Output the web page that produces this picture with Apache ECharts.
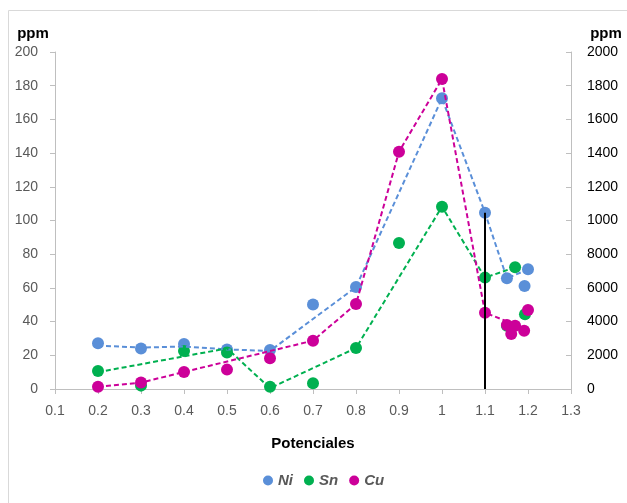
<!DOCTYPE html>
<html><head><meta charset="utf-8">
<script src="https://cdn.jsdelivr.net/npm/echarts@6/dist/echarts.min.js"></script>
<style>html,body{margin:0;padding:0;background:#fff}#c{width:627px;height:503px}</style>
</head><body><div id="c"></div>
<script>
// Measured points (x = potencial, y = ppm)
const niPoints = [[0.2,27.1],[0.3,24.1],[0.4,26.7],[0.5,23.5],[0.6,23.1],[0.7,50.2],[0.8,60.5],[1.0,172.5],[1.1,104.6],[1.151,65.7],[1.2,71.0],[1.192,61.1]];
const snPoints = [[0.2,10.7],[0.3,2.0],[0.4,22.5],[0.5,21.6],[0.6,1.4],[0.7,3.4],[0.8,24.3],[0.9,86.6],[1.0,108.2],[1.1,66.1],[1.17,72.2],[1.193,44.3],[1.151,37.6]];
const cuPoints = [[0.2,14],[0.3,38],[0.4,101],[0.5,115],[0.6,182],[0.7,287],[0.8,504],[0.9,1408],[1.0,1840],[1.1,453],[1.151,380],[1.17,376],[1.161,326],[1.191,346],[1.2,469]];
// Dashed connecting lines
const niLine = [[0.2,25.8],[0.3,24.6],[0.4,25.2],[0.5,23.5],[0.6,22.6],[0.8,60.5],[1.0,172.5],[1.1,104.6],[1.151,65.7],[1.2,71.0]];
const snLine = [[0.2,10.0],[0.5,24.1],[0.6,0.5],[0.8,24.3],[1.0,108.2],[1.1,66.1],[1.17,72.2]];
const cuLine = [[0.2,14],[0.3,38],[0.4,101],[0.7,287],[0.8,504],[0.9,1408],[1.0,1840],[1.1,453],[1.162,390]];
const markerLine = [[1.1,0],[1.1,104.6]];
const xTicks = {min:0.1, max:1.3, interval:0.1};
const rightTickLabels = ["0","2000","4000","6000","8000","1000","1200","1400","1600","1800","2000"];
const seriesNames = ["Ni","Sn","Cu"];
const colors = ["#5A8FD8","#00B050","#CC0099"];

const font = "'Liberation Sans', Arial, sans-serif";
const chart = echarts.init(document.getElementById('c'));
const dash = (name, data, color, yIdx) => ({
  name: name + ' linea', type:'line', data, yAxisIndex:yIdx, showSymbol:false, symbol:'none',
  lineStyle:{color, width:2, type:[5,3]}, z:3, silent:true
});
const pts = (name, data, color, yIdx) => ({
  name, type:'scatter', data, yAxisIndex:yIdx, symbolSize:12, itemStyle:{color, opacity:1}, z:2
});
chart.setOption({
  animation:false,
  graphic:[{type:'rect', shape:{x:8.5,y:10.5,width:700,height:600}, style:{fill:null, stroke:'#D9D9D9', lineWidth:1}, z:-1}],
  grid:{left:55, right:56, top:52, bottom:114},
  legend:{data:seriesNames, bottom:10, left:258, icon:'circle', itemWidth:10, itemHeight:10, itemGap:11,
    textStyle:{fontFamily:font, fontSize:15, fontWeight:'bold', fontStyle:'italic', color:'#595959'}},
  xAxis:{type:'value', min:xTicks.min, max:xTicks.max, interval:xTicks.interval,
    name:'Potenciales', nameLocation:'middle', nameGap:47,
    nameTextStyle:{fontFamily:font, fontSize:15, fontWeight:'bold', color:'#000'},
    axisLine:{lineStyle:{color:'#BFBFBF'}}, axisTick:{show:true, length:5, lineStyle:{color:'#BFBFBF'}},
    splitLine:{show:false},
    axisLabel:{fontFamily:font, fontSize:14, color:'#595959', margin:15,
      formatter:v=>{const r=Math.round(v*10)/10; return String(r);}}},
  yAxis:[
    {type:'value', min:0, max:200, interval:20, position:'left',
     axisLine:{show:true, lineStyle:{color:'#BFBFBF'}}, axisTick:{show:true, length:5, lineStyle:{color:'#BFBFBF'}},
     splitLine:{show:false},
     axisLabel:{fontFamily:font, fontSize:14, color:'#595959', margin:17},
     name:'ppm', nameLocation:'end', nameGap:11,
     nameTextStyle:{fontFamily:font, fontSize:15, fontWeight:'bold', color:'#000', align:'center', padding:[0,0,0,-44]}},
    {type:'value', min:0, max:2000, interval:200, position:'right',
     axisLine:{show:true, lineStyle:{color:'#BFBFBF'}}, axisTick:{show:true, inside:true, length:5, lineStyle:{color:'#BFBFBF'}},
     splitLine:{show:false},
     axisLabel:{fontFamily:font, fontSize:14, color:'#000', margin:16,
       formatter:v=>rightTickLabels[Math.round(v/200)]},
     name:'ppm', nameLocation:'end', nameGap:11,
     nameTextStyle:{fontFamily:font, fontSize:15, fontWeight:'bold', color:'#000', align:'center', padding:[0,0,0,70]}}
  ],
  series:[
    pts('Ni', niPoints, colors[0], 0),
    pts('Sn', snPoints, colors[1], 0),
    pts('Cu', cuPoints, colors[2], 1),
    dash('Ni', niLine, colors[0], 0),
    dash('Sn', snLine, colors[1], 0),
    dash('Cu', cuLine, colors[2], 1),
    {name:'marca', type:'line', data:markerLine, yAxisIndex:0, showSymbol:false, symbol:'none',
     lineStyle:{color:'#000', width:2}, z:4, silent:true}
  ]
});
</script></body></html>
